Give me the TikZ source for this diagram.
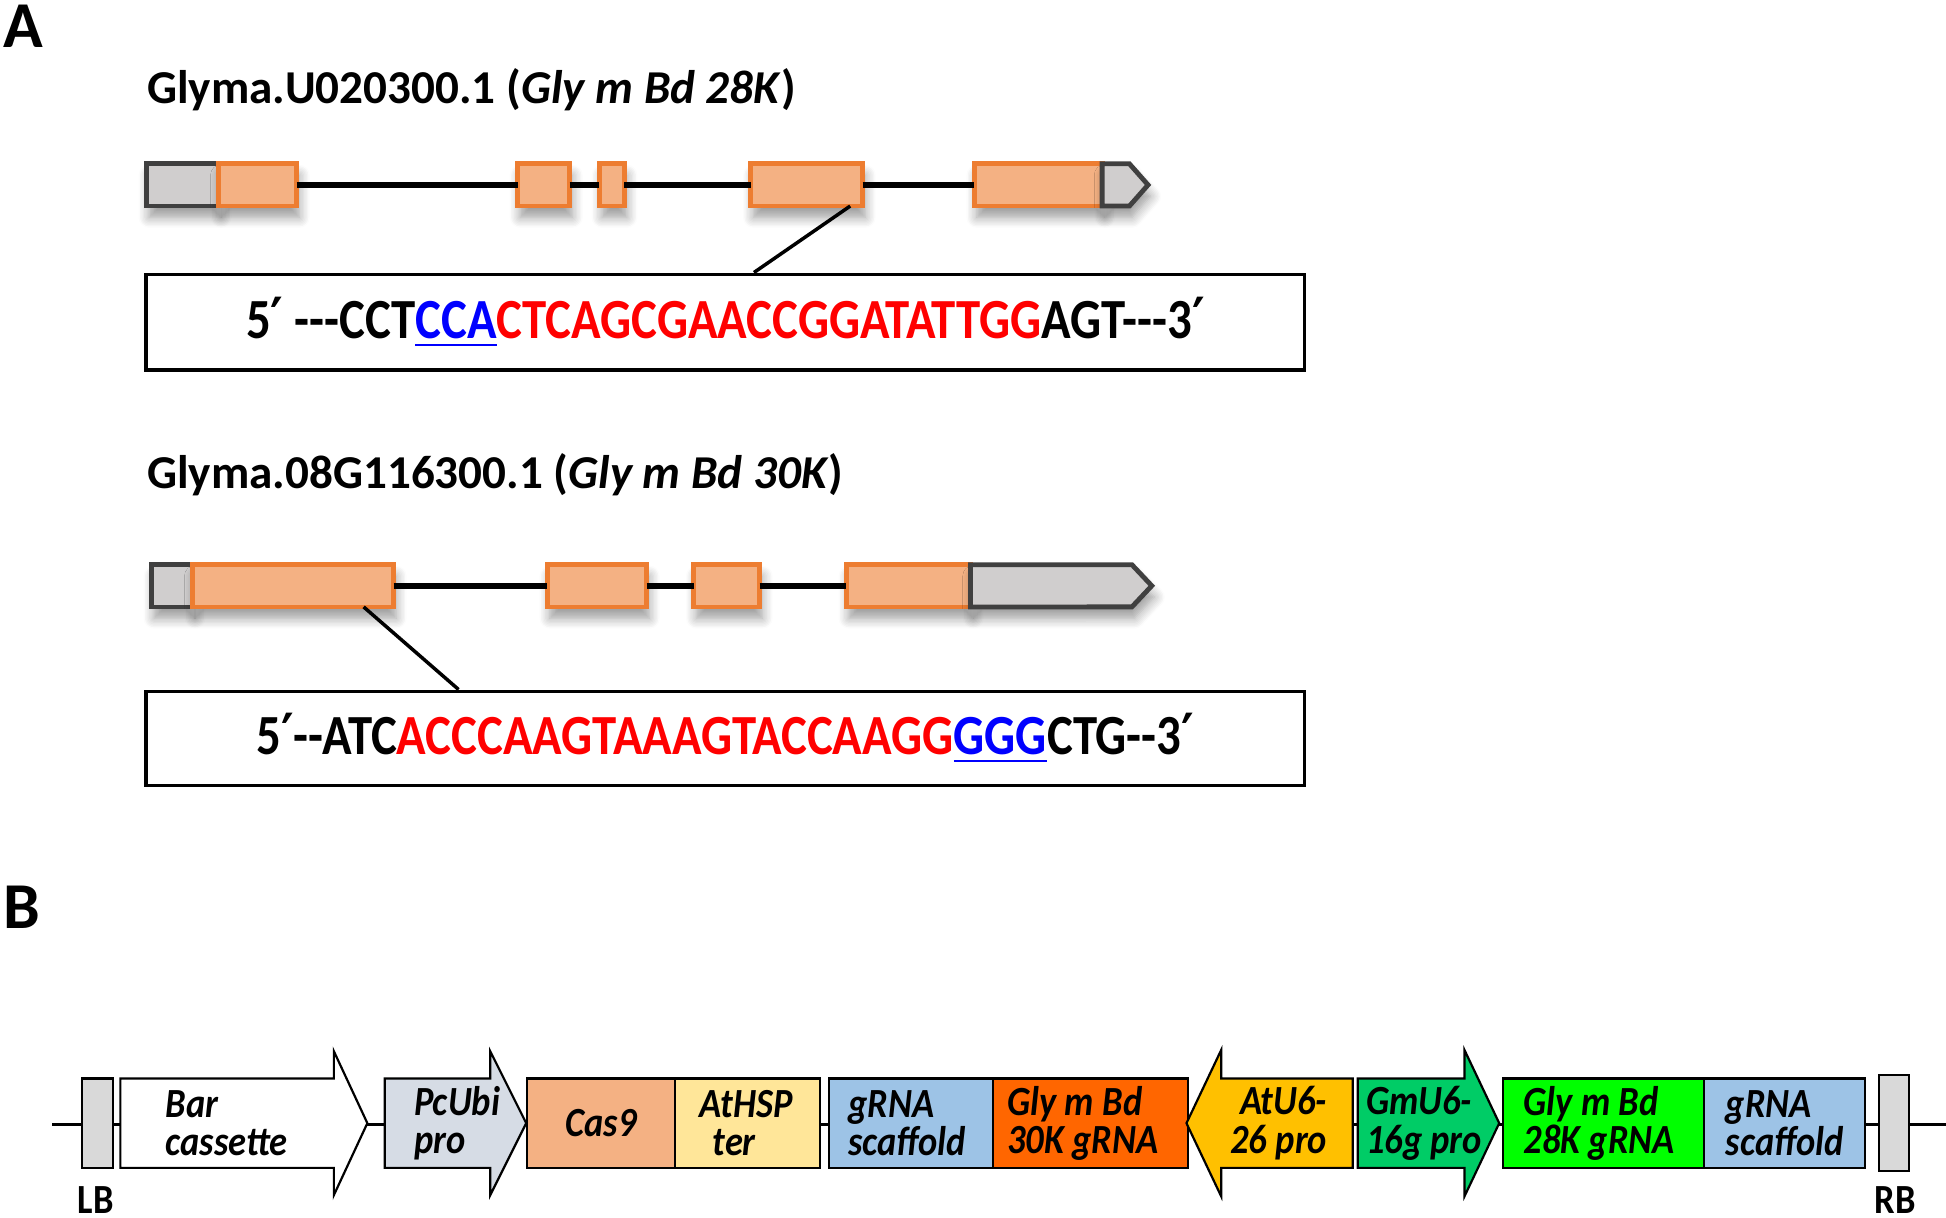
\documentclass[tikz,border=0pt]{standalone}
\usepackage{fontspec}
\setmainfont{Carlito}
\newfontfamily\seqfont{Carlito}[FakeStretch=0.86]
\newfontfamily\partfont{Carlito}[FakeStretch=0.88]
\newfontfamily\primefont{DejaVu Sans}[FakeStretch=0.85]
\usepackage{tikz}
\usetikzlibrary{positioning,calc,shadows.blur}

\definecolor{exonfill}{HTML}{F4B183}
\definecolor{exonline}{HTML}{ED7D31}
\definecolor{utrfill}{HTML}{D0CECE}
\definecolor{utrline}{HTML}{404040}
\definecolor{seqred}{HTML}{FF0000}
\definecolor{pamblue}{HTML}{0000FF}
\definecolor{bordergray}{HTML}{D9D9D9}
\definecolor{ubifill}{HTML}{D6DCE5}
\definecolor{casfill}{HTML}{F4B183}
\definecolor{hspfill}{HTML}{FFE699}
\definecolor{scaffill}{HTML}{9DC3E6}
\definecolor{gthirty}{HTML}{FF6600}
\definecolor{atufill}{HTML}{FFC000}
\definecolor{gmufill}{HTML}{00CC66}
\definecolor{gtwenty}{HTML}{00FF00}

\newcommand{\pr}{{\primefont\bfseries ′}}

\begin{document}
\begin{tikzpicture}[
  x=0.01cm, y=-0.01cm,
  panel/.style={font=\fontsize{15}{18}\selectfont\bfseries, inner sep=0, anchor=base west},
  title/.style={font=\fontsize{10.8}{13}\selectfont\bfseries, inner sep=0, anchor=base west},
  gshadow/.style={blur shadow={shadow blur steps=8, shadow xshift=0.6pt, shadow yshift=-2.6pt,
                  shadow blur radius=2.4pt, shadow opacity=40}},
  exon/.style={draw=exonline, fill=exonfill, line width=1.1pt, inner sep=0, outer sep=0,
               minimum height=0.34cm, anchor=north west, gshadow},
  utr/.style={draw=utrline, fill=utrfill, line width=1.1pt, inner sep=0, outer sep=0,
              minimum height=0.34cm, anchor=north west, gshadow},
  intron/.style={line width=1.3pt},
  seqbox/.style={draw, line width=0.8pt, minimum width=9.33cm, inner sep=0,
                 font=\seqfont\fontsize{13}{15}\selectfont\bfseries},
  link/.style={line width=0.8pt},
  part/.style={draw, line width=0.5pt, inner sep=0, minimum height=0.72cm, anchor=west},
  arrowpart/.style={draw, line width=0.5pt},
  plabel/.style={font=\partfont\fontsize{9.5}{8.8}\selectfont\bfseries\itshape,
                 inner sep=0, anchor=west, align=left},
  tag/.style={font=\partfont\fontsize{9.5}{11}\selectfont\bfseries, inner sep=0, anchor=base west}
]
\useasboundingbox (0,0) rectangle (1568,981);

% --- Panel A ---
\node[panel] (pa) at (2,38) {A};
\node[title] (t28) at (118,83) {Glyma.U020300.1 (\textit{Gly m Bd 28K})};

% gene model, Gly m Bd 28K
\node[utr, minimum width=0.58cm] (u11) at (118,132) {};
\node[exon, minimum width=0.63cm] (e11) at (176,132) {};
\node[exon, minimum width=0.42cm] (e12) at (417,132) {};
\node[exon, minimum width=0.20cm] (e13) at (483,132) {};
\node[exon, minimum width=0.90cm] (e14) at (605,132) {};
\node[exon, minimum width=1.03cm] (e15) at (785,132) {};
\draw[utr] (e15.north east) -- ++(22,0) -- ++(15,17) -- ++(-15,17) -- (e15.south east) -- cycle;

\draw[intron] (e11.east) -- (e12.west);
\draw[intron] (e12.east) -- (e13.west);
\draw[intron] (e13.east) -- (e14.west);
\draw[intron] (e14.east) -- (e15.west);

\node[seqbox, minimum height=0.77cm] (seq1) at (584.5,259.5)
  {5\pr{} ---CCT\textcolor{pamblue}{\underline{CCA}}\textcolor{seqred}{CTCAGCGAACCGGATATTGG}AGT---3\pr};
\draw[link] ($(e14.south east)+(-10,0)$) -- ($(seq1.north)+(23,0)$);

\node[title] (t30) at (118,394) {Glyma.08G116300.1 (\textit{Gly m Bd 30K})};

% gene model, Gly m Bd 30K
\node[utr, minimum width=0.33cm] (u21) at (122,455) {};
\node[exon, minimum width=1.62cm] (e21) at (155,455) {};
\node[exon, minimum width=0.80cm] (e22) at (441,455) {};
\node[exon, minimum width=0.53cm] (e23) at (559,455) {};
\node[exon, minimum width=1.00cm] (e24) at (682,455) {};
\draw[utr] (e24.north east) -- ++(130,0) -- ++(16,17) -- ++(-16,17) -- (e24.south east) -- cycle;

\draw[intron] (e21.east) -- (e22.west);
\draw[intron] (e22.east) -- (e23.west);
\draw[intron] (e23.east) -- (e24.west);

\node[seqbox, minimum height=0.76cm] (seq2) at (584.5,595)
  {5\pr--ATC\textcolor{seqred}{ACCCAAGTAAAGTACCAAGG}\textcolor{pamblue}{\underline{GGG}}CTG--3\pr};
\draw[link] ($(e21.south west)+(138,0)$) -- ($(seq2.north)+(-215,0)$);

% --- Panel B: T-DNA ---
\node[panel] (pb) at (2,748) {B};

\coordinate (tl) at (42,906);
\coordinate (tr) at (1568,906);
\draw[line width=0.8pt] (tl) -- (tr);

\node[part, fill=bordergray, minimum width=0.25cm] (lb) at (65,905) {};
\draw[arrowpart, fill=white] (97,869) -- (269,869) -- (269,847) -- (296,905)
  -- (269,963) -- (269,941) -- (97,941) -- cycle;
\draw[arrowpart, fill=ubifill] (310,869) -- (395,869) -- (395,847) -- (424,905)
  -- (395,963) -- (395,941) -- (310,941) -- cycle;
\node[part, fill=casfill, minimum width=1.19cm] (cas) at (424,905) {};
\node[part, fill=hspfill, minimum width=1.17cm] (hsp) at (543,905) {};
\node[part, fill=scaffill, minimum width=1.32cm] (sc1) at (667,905) {};
\node[part, fill=gthirty, minimum width=1.57cm] (g30) at (799,905) {};
\draw[arrowpart, fill=atufill] (1090,869) -- (984,869) -- (984,846) -- (956,905)
  -- (984,964) -- (984,941) -- (1090,941) -- cycle;
\draw[arrowpart, fill=gmufill] (1094,869) -- (1180,869) -- (1180,846) -- (1208,905)
  -- (1180,964) -- (1180,941) -- (1094,941) -- cycle;
\node[part, fill=gtwenty, minimum width=1.62cm] (g28) at (1210,905) {};
\node[part, fill=scaffill, minimum width=1.30cm] (sc2) at (1372,905) {};
\node[part, fill=bordergray, minimum width=0.24cm, minimum height=0.77cm] (rb) at (1513,905) {};

% labels
\node[plabel] (tbar) at (133,905) {Bar\\cassette};
\node[plabel] (tubi) at (333,905) {PcUbi\\pro};
\node[plabel, anchor=center] (tcas) at (cas) {Cas9};
\node[plabel] (thsp) at (563,905) {AtHSP\\\hspace{3pt}ter};
\node[plabel] (tsc1) at (683,905) {gRNA\\scaffold};
\node[plabel] (tg30) at (811,905) {Gly m Bd\\30K gRNA};
\node[plabel, anchor=east, align=right] (tatu) at (1070,905) {AtU6-\\26 pro};
\node[plabel] (tgmu) at (1100,905) {GmU6-\\16g pro};
\node[plabel] (tg28) at (1227,905) {Gly m Bd\\28K gRNA};
\node[plabel] (tsc2) at (1390,905) {gRNA\\scaffold};
\node[tag] (tlb) at (62,978) {LB};
\node[tag] (trb) at (1510,978) {RB};

\end{tikzpicture}
\end{document}
